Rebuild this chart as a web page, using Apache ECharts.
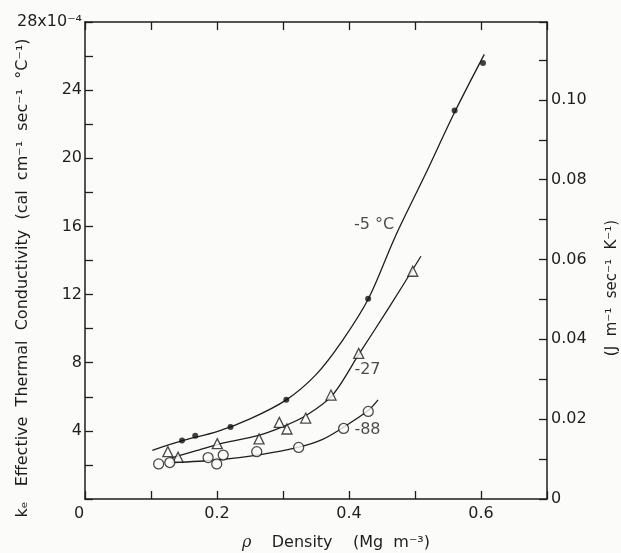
<!DOCTYPE html>
<html>
<head>
<meta charset="utf-8">
<script src="https://cdn.jsdelivr.net/npm/echarts@6/dist/echarts.min.js"></script>
<style>
html,body{margin:0;padding:0;background:#fbfbfa;}
#c{width:621px;height:553px;}
</style>
</head>
<body>
<div id="c"></div>
<script>
// -5 °C (filled dots)
var density5 = [0.147, 0.167, 0.2205, 0.305, 0.429, 0.56, 0.603];
var k5       = [3.43, 3.71, 4.22, 5.82, 11.76, 22.8, 25.6];
// -27 °C (triangles)
var density27 = [0.1255, 0.141, 0.2004, 0.2637, 0.2944, 0.306, 0.3344, 0.3727, 0.4147, 0.4966];
var k27       = [2.78, 2.46, 3.25, 3.53, 4.5, 4.11, 4.75, 6.1, 8.55, 13.37];
// -88 °C (open circles)
var density88 = [0.1116, 0.1285, 0.1865, 0.1996, 0.2094, 0.2602, 0.3237, 0.3918, 0.4292];
var k88       = [2.06, 2.14, 2.43, 2.06, 2.58, 2.78, 3.03, 4.14, 5.14];
// fitted curves
var fit5X  = [0.102, 0.15, 0.20, 0.25, 0.305, 0.35, 0.39, 0.43, 0.47, 0.515, 0.56, 0.605];
var fit5Y  = [2.86, 3.45, 3.95, 4.7, 5.82, 7.3, 9.3, 11.8, 15.4, 19.0, 22.7, 26.1];
var fit27X = [0.131, 0.17, 0.21, 0.26, 0.30, 0.335, 0.375, 0.415, 0.46, 0.509];
var fit27Y = [2.42, 2.85, 3.3, 3.7, 4.25, 4.9, 6.1, 8.5, 11.2, 14.25];
var fit88X = [0.132, 0.2, 0.264, 0.324, 0.36, 0.392, 0.429, 0.444];
var fit88Y = [2.14, 2.29, 2.59, 3.04, 3.5, 4.22, 5.19, 5.82];
// curve labels (text, and the density / conductivity where each sits)
var curveLabels = ['-5 \u00B0C', '-27', '-88'];
var curveLabelX = [0.438, 0.428, 0.428];
var curveLabelY = [16.1, 7.6, 4.06];
// tick labels
var xTickLabels = ['0', '0.2', '0.4', '0.6'];
var leftTopLabel = '28x10\u207B\u2074';
var rightTickLabels = ['0', '0.02', '0.04', '0.06', '0.08', '0.10'];

function zip(a, b) { return a.map(function (v, i) { return [v, b[i]]; }); }

var FONT = 'DejaVu Sans';
var INK = '#1e1e1e';
var BG = '#fbfbfa';

var chart = echarts.init(document.getElementById('c'), null, {renderer: 'canvas'});
function axLine() { return {onZero: false, lineStyle: {color: INK, width: 1.5}}; }
function axTick() { return {show: true, inside: true, length: 8, lineStyle: {color: INK, width: 1.3}}; }

var option = {
  backgroundColor: BG,
  animation: false,
  grid: {left: 85, right: 74, top: 22, bottom: 54, containLabel: false},
  xAxis: [{
    type: 'value', min: 0, max: 0.7, interval: 0.1, position: 'bottom',
    axisLine: axLine(), axisTick: axTick(), splitLine: {show: false},
    axisLabel: {
      fontFamily: FONT, fontSize: 16, color: INK, margin: 7,
      formatter: function (v) {
        var k = Math.round(v * 10);
        if (k === 0) return '{z|' + xTickLabels[0] + '}';
        if (k % 2 === 0 && k / 2 < xTickLabels.length) return xTickLabels[k / 2];
        return '';
      },
      rich: {z: {fontFamily: FONT, fontSize: 16, color: INK, padding: [0, 12, 0, 0]}}
    }
  }, {
    type: 'value', min: 0, max: 0.7, interval: 0.1, position: 'top',
    axisLine: axLine(), axisTick: axTick(), splitLine: {show: false},
    axisLabel: {show: false}
  }],
  yAxis: [{
    type: 'value', min: 0, max: 28, interval: 2, position: 'left',
    axisLine: axLine(), axisTick: axTick(), splitLine: {show: false},
    axisLabel: {
      fontFamily: FONT, fontSize: 16, color: INK, margin: 3,
      formatter: function (v) {
        if (v === 28) return leftTopLabel;
        if (v > 0 && v % 4 === 0) return String(v);
        return '';
      }
    }
  }, {
    type: 'value', min: 0, max: 0.1195, interval: 0.01, position: 'right',
    axisLine: axLine(), axisTick: axTick(), splitLine: {show: false},
    axisLabel: {
      fontFamily: FONT, fontSize: 16, color: INK, margin: 4,
      formatter: function (v) {
        var k = Math.round(v * 100);
        if (Math.abs(v * 100 - k) > 1e-6) return '';
        if (k % 2 === 0 && k / 2 < rightTickLabels.length) return rightTickLabels[k / 2];
        return '';
      }
    }
  }],
  graphic: [{
    type: 'text', x: 23, y: 278, rotation: Math.PI / 2,
    style: {
      text: 'k\u2091   Effective  Thermal  Conductivity  (cal  cm\u207B\u00B9  sec\u207B\u00B9  \u00B0C\u207B\u00B9)',
      font: '16px "DejaVu Sans"', fill: INK, align: 'center', verticalAlign: 'middle'
    }
  }, {
    type: 'text', x: 612, y: 288, rotation: Math.PI / 2,
    style: {
      text: '(J  m\u207B\u00B9  sec\u207B\u00B9  K\u207B\u00B9)',
      font: '15px "DejaVu Sans"', fill: INK, align: 'center', verticalAlign: 'middle'
    }
  }, {
    type: 'text', x: 336, y: 543,
    style: {
      text: '{i|\u03C1}    Density    (Mg  m\u207B\u00B3)',
      font: '16px "DejaVu Sans"', fill: INK, align: 'center', verticalAlign: 'middle',
      rich: {i: {fontStyle: 'italic', font: 'italic 16px "DejaVu Serif"', fill: INK}}
    }
  }],
  series: [{
    type: 'line', name: 'fit5', data: zip(fit5X, fit5Y), smooth: 0.3, symbol: 'none',
    lineStyle: {color: INK, width: 1.3}, z: 2
  }, {
    type: 'line', name: 'fit27', data: zip(fit27X, fit27Y), smooth: 0.3, symbol: 'none',
    lineStyle: {color: INK, width: 1.3}, z: 2
  }, {
    type: 'line', name: 'fit88', data: zip(fit88X, fit88Y), smooth: 0.3, symbol: 'none',
    lineStyle: {color: INK, width: 1.3}, z: 2
  }, {
    type: 'scatter', name: '-5', data: zip(density5, k5), symbol: 'circle', symbolSize: 6,
    itemStyle: {color: '#111'}, z: 3
  }, {
    type: 'scatter', name: '-27', data: zip(density27, k27), symbol: 'triangle', symbolSize: 10,
    itemStyle: {color: BG, borderColor: INK, borderWidth: 1.3}, z: 3
  }, {
    type: 'scatter', name: '-88', data: zip(density88, k88), symbol: 'circle', symbolSize: 10,
    itemStyle: {color: BG, borderColor: INK, borderWidth: 1.3}, z: 3
  }, {
    type: 'scatter', name: 'labels',
    data: curveLabelX.map(function (x, i) { return {value: [x, curveLabelY[i]], name: curveLabels[i]}; }),
    symbol: 'circle', symbolSize: 1, itemStyle: {color: 'rgba(0,0,0,0)'}, z: 4,
    label: {show: true, position: 'inside', fontFamily: FONT, fontSize: 16, color: INK,
      formatter: function (p) { return p.name; }}
  }]
};
chart.setOption(option);
</script>
</body>
</html>
